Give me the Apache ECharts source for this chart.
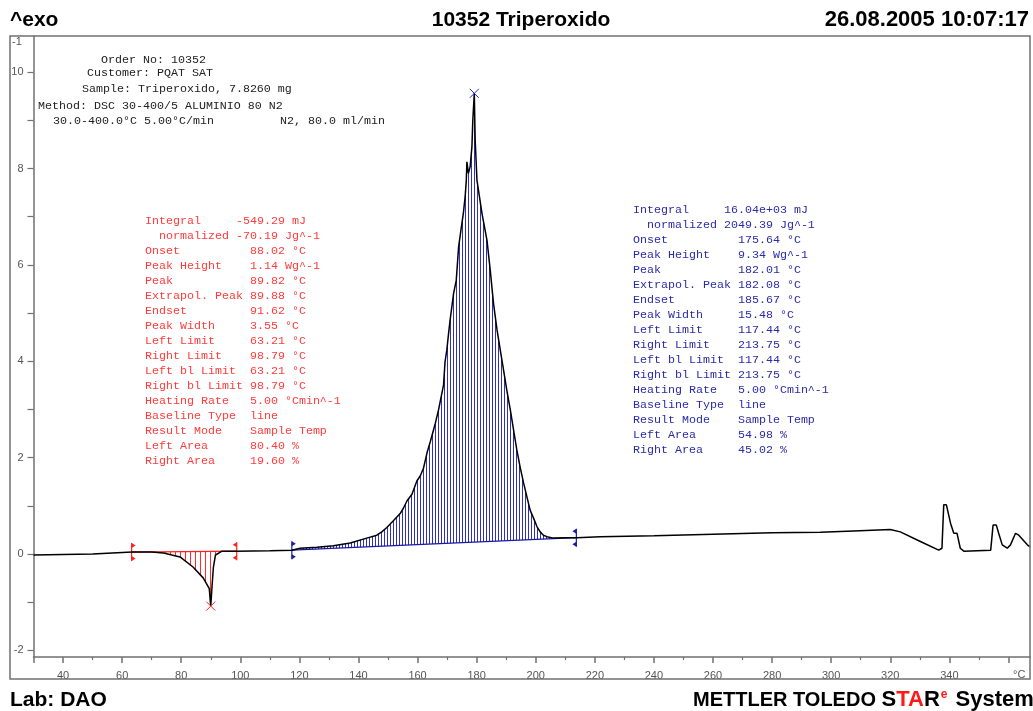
<!DOCTYPE html>
<html>
<head>
<meta charset="utf-8">
<script src="https://cdn.jsdelivr.net/npm/echarts@6/dist/echarts.min.js"></script>
<style>
html, body { margin: 0; padding: 0; background: #fff; }
#main { width: 1033px; height: 711px; }
</style>
</head>
<body>
<div id="main"></div>
<script>
// DSC curve, temperature (°C) and heat flow (W/g)
var temp = [30, 40, 50, 63.4, 70, 74, 79.6, 84.0, 87.5, 89.5,
    89.8, 90.0, 90.4, 90.9, 91.6, 93.8, 98.5, 110, 117.5, 120.2,
    125.9, 131.5, 137.2, 142.8, 146.2, 147.9, 149.6, 151.8, 154.1, 155.2,
    156.4, 158.1, 159.8, 160.9, 162.0, 163.2, 164.3, 166.0, 167.1, 168.8,
    169.3, 169.9, 170.5, 171.0, 172.2, 173.1, 173.9, 175.0, 175.5, 176.1,
    176.5, 176.7, 177.2, 177.8, 178.4, 178.7, 179.2, 179.5, 180.1, 181.8,
    183.5, 184.6, 185.7, 186.9, 188.0, 189.1, 190.2, 191.4, 192.5, 193.6,
    194.7, 195.9, 197.0, 198.1, 199.3, 200.4, 201.5, 202.6, 203.8, 206.0,
    210.6, 213.9, 221.8, 240, 260, 280, 296.3, 307.6, 320.0, 323.4,
    330.2, 336.4, 337.5, 338.1, 339.0, 340.4, 341.5, 342.6, 343.7, 344.9,
    354.0, 354.8, 355.9, 356.7, 357.9, 359.6, 360.7, 362.4, 363.5, 366.4,
    367.3];
var heat = [-0.02, -0.01, 0.0, 0.04, 0.04, 0.02, -0.06, -0.27, -0.50, -0.72,
    -0.95, -1.08, -0.70, -0.27, -0.02, 0.06, 0.06, 0.07, 0.08, 0.12,
    0.14, 0.17, 0.23, 0.33, 0.39, 0.46, 0.55, 0.69, 0.84, 0.95,
    1.10, 1.24, 1.52, 1.62, 1.78, 2.10, 2.33, 2.71, 2.99, 3.51,
    3.99, 4.23, 4.58, 4.85, 5.41, 5.68, 6.38, 6.86, 7.07, 7.41,
    7.76, 8.14, 7.90, 8.04, 8.45, 9.00, 9.56, 8.59, 7.76, 7.07,
    6.51, 5.89, 5.20, 4.65, 4.23, 3.82, 3.40, 2.99, 2.57, 2.16,
    1.81, 1.47, 1.19, 0.91, 0.74, 0.57, 0.46, 0.39, 0.36, 0.33,
    0.34, 0.34, 0.36, 0.38, 0.41, 0.44, 0.45, 0.48, 0.51, 0.46,
    0.26, 0.08, 0.12, 1.02, 1.02, 0.64, 0.43, 0.43, 0.12, 0.06,
    0.08, 0.60, 0.60, 0.43, 0.19, 0.12, 0.19, 0.43, 0.39, 0.19,
    0.15];

// integration limits, baseline values at the limits and the peak
var redLimits = [63.21, 98.79];
var redBase = [0.04, 0.06];
var redPeak = [90.0, -1.08];
var blueLimits = [117.44, 213.75];
var blueBase = [0.08, 0.34];
var bluePeak = [179.2, 9.56];

// axis ticks
var xMajorTicks = [30, 40, 60, 80, 100, 120, 140, 160, 180, 200, 220, 240, 260, 280, 300, 320, 340, 360];
var xMinorTicks = [50, 70, 90, 110, 130, 150, 170, 190, 210, 230, 250, 270, 290, 310, 330, 350];
var xLabels = [40, 60, 80, 100, 120, 140, 160, 180, 200, 220, 240, 260, 280, 300, 320, 340];
var yTicks = [-2, -1, 0, 1, 2, 3, 4, 5, 6, 7, 8, 9, 10];
var yLabels = [-2, 0, 2, 4, 6, 8, 10];

// result texts
var redRows = [
    ['Integral', '-549.29 mJ'], ['  normalized', '-70.19 Jg^-1'],
    ['Onset', '88.02 °C'], ['Peak Height', '1.14 Wg^-1'], ['Peak', '89.82 °C'],
    ['Extrapol. Peak', '89.88 °C'], ['Endset', '91.62 °C'], ['Peak Width', '3.55 °C'],
    ['Left Limit', '63.21 °C'], ['Right Limit', '98.79 °C'],
    ['Left bl Limit', '63.21 °C'], ['Right bl Limit', '98.79 °C'],
    ['Heating Rate', '5.00 °Cmin^-1'], ['Baseline Type', 'line'],
    ['Result Mode', 'Sample Temp'], ['Left Area', '80.40 %'], ['Right Area', '19.60 %']
];
var blueRows = [
    ['Integral', '16.04e+03 mJ'], ['  normalized', '2049.39 Jg^-1'],
    ['Onset', '175.64 °C'], ['Peak Height', '9.34 Wg^-1'], ['Peak', '182.01 °C'],
    ['Extrapol. Peak', '182.08 °C'], ['Endset', '185.67 °C'], ['Peak Width', '15.48 °C'],
    ['Left Limit', '117.44 °C'], ['Right Limit', '213.75 °C'],
    ['Left bl Limit', '117.44 °C'], ['Right bl Limit', '213.75 °C'],
    ['Heating Rate', '5.00 °Cmin^-1'], ['Baseline Type', 'line'],
    ['Result Mode', 'Sample Temp'], ['Left Area', '54.98 %'], ['Right Area', '45.02 %']
];

function rowsText(rows) {
    return rows.map(function (r, i) {
        return r[0].padEnd(i < 2 ? 13 : 15) + r[1];
    }).join('\n');
}

function hatch(color, w) {
    var c = document.createElement('canvas');
    c.width = w; c.height = 4;
    var ctx = c.getContext('2d');
    ctx.fillStyle = color;
    ctx.fillRect(0, 0, 1, 4);
    return c;
}
var redHatch = hatch('#ff2a2a', 5);
var blueHatch = hatch('#3030c0', 3);

function bracket(p, dir, color) {
    var x = p[0], y = p[1];
    return {
        type: 'group',
        children: [
            { type: 'line', shape: { x1: x, y1: y - 9, x2: x, y2: y + 9 }, style: { stroke: color, lineWidth: 1.2 } },
            { type: 'polygon', shape: { points: [[x, y - 9], [x + 4 * dir, y - 6.5], [x, y - 4]] }, style: { fill: color } },
            { type: 'polygon', shape: { points: [[x, y + 4], [x + 4 * dir, y + 6.5], [x, y + 9]] }, style: { fill: color } }
        ]
    };
}

function cross(p, color) {
    var x = p[0], y = p[1], s = 4.5;
    return {
        type: 'group',
        children: [
            { type: 'line', shape: { x1: x - s, y1: y - s, x2: x + s, y2: y + s }, style: { stroke: color, lineWidth: 1 } },
            { type: 'line', shape: { x1: x - s, y1: y + s, x2: x + s, y2: y - s }, style: { stroke: color, lineWidth: 1 } }
        ]
    };
}

function areaRender(lim, base, color, pat) {
    return function (params, api) {
        var pts = [api.coord([lim[0], base[0]])];
        for (var i = 0; i < temp.length; i++) {
            if (temp[i] > lim[0] && temp[i] < lim[1]) pts.push(api.coord([temp[i], heat[i]]));
        }
        pts.push(api.coord([lim[1], base[1]]));
        var b0 = pts[0], b1 = pts[pts.length - 1];
        return {
            type: 'group',
            children: [
                { type: 'polygon', shape: { points: pts }, style: { fill: { image: pat, repeat: 'repeat' } } },
                { type: 'line', shape: { x1: b0[0], y1: b0[1], x2: b1[0], y2: b1[1] }, style: { stroke: color, lineWidth: 1.2 } },
                bracket(b0, 1, color),
                bracket(b1, -1, color)
            ]
        };
    };
}

function peakRender(peak, color) {
    return function (params, api) {
        return cross(api.coord(peak), color);
    };
}

var chart = echarts.init(document.getElementById('main'));
var axisGray = '#707070';
var mono = '11.67px "Liberation Mono", monospace';
var head = '"Liberation Sans", Arial';

function txt(s, x, y, font, color, align) {
    return {
        type: 'text', z: 100,
        style: { text: s, x: x, y: y, font: font, fill: color || '#000',
            align: align || 'left', textAlign: align || 'left',
            verticalAlign: 'middle', textVerticalAlign: 'middle' }
    };
}

var option = {
    animation: false,
    grid: { left: 33.5, right: 3, top: 36, bottom: 54 },
    xAxis: [{
        type: 'value', min: 30, max: 367.3, position: 'bottom',
        axisLine: { show: true, onZero: false, lineStyle: { color: axisGray, width: 1.5 } },
        axisTick: { show: true, customValues: xMajorTicks, length: 6, lineStyle: { color: axisGray, width: 1.5 } },
        axisLabel: { customValues: xLabels, color: '#555', fontSize: 11, margin: 13, fontFamily: head },
        splitLine: { show: false }
    }, {
        type: 'value', min: 30, max: 367.3, position: 'bottom',
        axisLine: { show: false, onZero: false },
        axisTick: { show: true, customValues: xMinorTicks, length: 3, lineStyle: { color: axisGray, width: 1.2 } },
        axisLabel: { show: false },
        splitLine: { show: false }
    }],
    yAxis: {
        type: 'value', min: -2.137, max: 10.75,
        axisLine: { show: true, onZero: false, lineStyle: { color: axisGray, width: 1.5 } },
        axisTick: { show: true, customValues: yTicks, length: 6, lineStyle: { color: axisGray, width: 1.2 } },
        axisLabel: { customValues: yLabels, color: '#555', fontSize: 11, margin: 10, fontFamily: head },
        splitLine: { show: false }
    },
    graphic: [
        { type: 'rect', z: 99, shape: { x: 8, y: 680, width: 1025, height: 7 }, style: { fill: '#fff' } },
        { type: 'rect', z: 100, shape: { x: 10, y: 36, width: 1020, height: 643 }, style: { fill: null, stroke: axisGray, lineWidth: 1.5 } },
        txt('^exo', 10, 20, 'bold 21px ' + head, '#000'),
        txt('10352 Triperoxido', 521, 20, 'bold 21px ' + head, '#000', 'center'),
        txt('26.08.2005 10:07:17', 1029, 20, 'bold 22px ' + head, '#000', 'right'),
        txt('Lab: DAO', 10, 700, 'bold 21px ' + head, '#000'),
        {
            type: 'text', z: 100,
            style: {
                text: '{a|METTLER TOLEDO }{b|S}{r|TA}{b|R}{s|e}{b| System}',
                x: 693, y: 700, verticalAlign: 'middle', textVerticalAlign: 'middle',
                rich: {
                    a: { font: 'bold 20px ' + head, fill: '#000', color: '#000' },
                    b: { font: 'bold 22px ' + head, fill: '#000', color: '#000' },
                    r: { font: 'bold 22px ' + head, fill: '#ff1a1a', color: '#ff1a1a' },
                    s: { font: 'bold 12px ' + head, fill: '#ff1a1a', color: '#ff1a1a', verticalAlign: 'top', padding: [0, 2, 8, 1] }
                }
            }
        },
        txt('-1', 12, 42, '11px ' + head, '#555'),
        txt('°C', 1013, 675, '11px ' + head, '#555'),
        txt('Order No: 10352', 101, 60, mono, '#222'),
        txt('Customer: PQAT SAT', 87, 73, mono, '#222'),
        txt('Sample: Triperoxido, 7.8260 mg', 82, 89, mono, '#222'),
        txt('Method: DSC 30-400/5 ALUMINIO 80 N2', 38, 106, mono, '#222'),
        txt('30.0-400.0°C 5.00°C/min', 53, 121, mono, '#222'),
        txt('N2, 80.0 ml/min', 280, 121, mono, '#222'),
        {
            type: 'text', z: 100,
            style: { text: rowsText(redRows), x: 145, y: 213.5, font: mono, fill: '#ff3b3b', lineHeight: 15,
                verticalAlign: 'top', textVerticalAlign: 'top' }
        },
        {
            type: 'text', z: 100,
            style: { text: rowsText(blueRows), x: 633, y: 202.5, font: mono, fill: '#2b2ba8', lineHeight: 15,
                verticalAlign: 'top', textVerticalAlign: 'top' }
        }
    ],
    series: [{
        type: 'custom',
        renderItem: areaRender(redLimits, redBase, '#ff2020', redHatch),
        data: [[redLimits[0], redBase[0]]],
        z: 2
    }, {
        type: 'custom',
        renderItem: areaRender(blueLimits, blueBase, '#1a1aa8', blueHatch),
        data: [[blueLimits[0], blueBase[0]]],
        z: 2
    }, {
        type: 'line',
        data: temp.map(function (t, i) { return [t, heat[i]]; }),
        showSymbol: false,
        lineStyle: { color: '#000', width: 1.5 },
        z: 5
    }, {
        type: 'custom',
        renderItem: peakRender(redPeak, '#ff2020'),
        data: [redPeak],
        z: 6
    }, {
        type: 'custom',
        renderItem: peakRender(bluePeak, '#2222cc'),
        data: [bluePeak],
        z: 6
    }]
};
chart.setOption(option);
</script>
</body>
</html>
